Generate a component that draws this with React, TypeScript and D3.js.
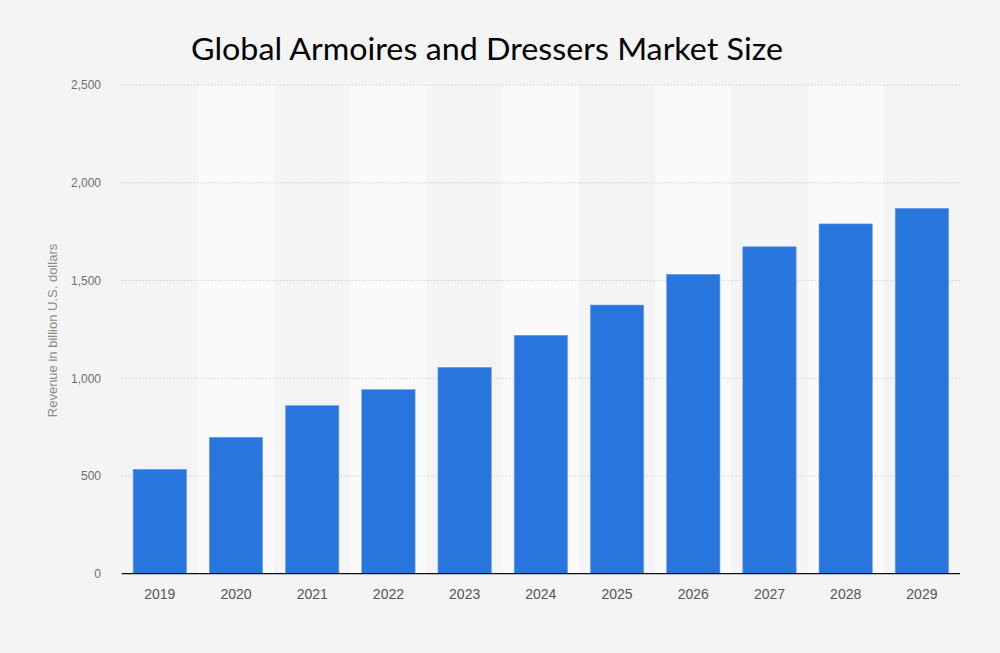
import React from "react";
import * as d3 from "d3";

const years = ["2019", "2020", "2021", "2022", "2023", "2024", "2025", "2026", "2027", "2028", "2029"];
const revenue = [534, 698, 860, 942, 1056, 1220, 1375, 1532, 1673, 1790, 1870];
const yTicks = [0, 500, 1000, 1500, 2000, 2500];

const W = 1000;
const H = 653;
const left = 121.7;
const right = 960;
const top = 85.2;
const bottom = 573.7;

export default function App() {
  const x = d3.scaleBand<string>().domain(years).range([left, right]).paddingInner(0.3).paddingOuter(0.15);
  const y = d3.scaleLinear().domain([0, 2500]).range([bottom, top]);
  const step = x.step();
  const fmt = d3.format(",");
  return (
    <svg width={W} height={H} style={{ position: "absolute", left: 0, top: 0, display: "block" }}>
      <rect x={0} y={0} width={W} height={H} fill="#f4f4f4" />
      {years.map((yr, i) => (
        <rect
          key={"band" + yr}
          x={(x(yr) as number) - step * 0.15}
          y={y(2500)}
          width={step}
          height={y(0) - y(2500)}
          fill={i % 2 === 1 ? "#fafafa" : "#f4f4f4"}
        />
      ))}
      {yTicks.filter((t) => t > 0).map((t) => (
        <line key={"g" + t} x1={left} x2={right} y1={y(t)} y2={y(t)} stroke="#c4c4c4" strokeWidth={1} strokeDasharray="1,2" />
      ))}
      {years.map((yr, i) => (
        <rect
          key={"bar" + yr}
          x={x(yr)}
          y={y(revenue[i])}
          width={x.bandwidth()}
          height={y(0) - y(revenue[i])}
          fill="#2876dd"
          stroke="#6a9fe6"
          strokeWidth={0.6}
        />
      ))}
      <line x1={left} x2={right} y1={bottom} y2={bottom} stroke="#111" strokeWidth={1.3} />
      {yTicks.map((t) => (
        <text
          key={"yt" + t}
          x={101}
          y={y(t)}
          dy="0.35em"
          textAnchor="end"
          fontFamily="Liberation Sans, Arial, sans-serif"
          fontSize={12}
          fill="#6e6e6e"
        >
          {fmt(t)}
        </text>
      ))}
      {years.map((yr) => (
        <text
          key={"xt" + yr}
          x={(x(yr) as number) + x.bandwidth() / 2}
          y={599}
          textAnchor="middle"
          fontFamily="Liberation Sans, Arial, sans-serif"
          fontSize={14}
          fill="#555"
        >
          {yr}
        </text>
      ))}
      <text
        transform={`translate(56.5,330.5) rotate(-90)`}
        textAnchor="middle"
        fontFamily="Liberation Sans, Arial, sans-serif"
        fontSize={13}
        fill="#8c8c8c"
      >
        Revenue in billion U.S. dollars
      </text>
      <text
        x={487}
        y={60}
        textAnchor="middle"
        fontFamily="Lato, 'Open Sans', sans-serif"
        fontSize={30}
        fill="#000"
        textLength={592}
        lengthAdjust="spacingAndGlyphs"
      >
        Global Armoires and Dressers Market Size
      </text>
    </svg>
  );
}
